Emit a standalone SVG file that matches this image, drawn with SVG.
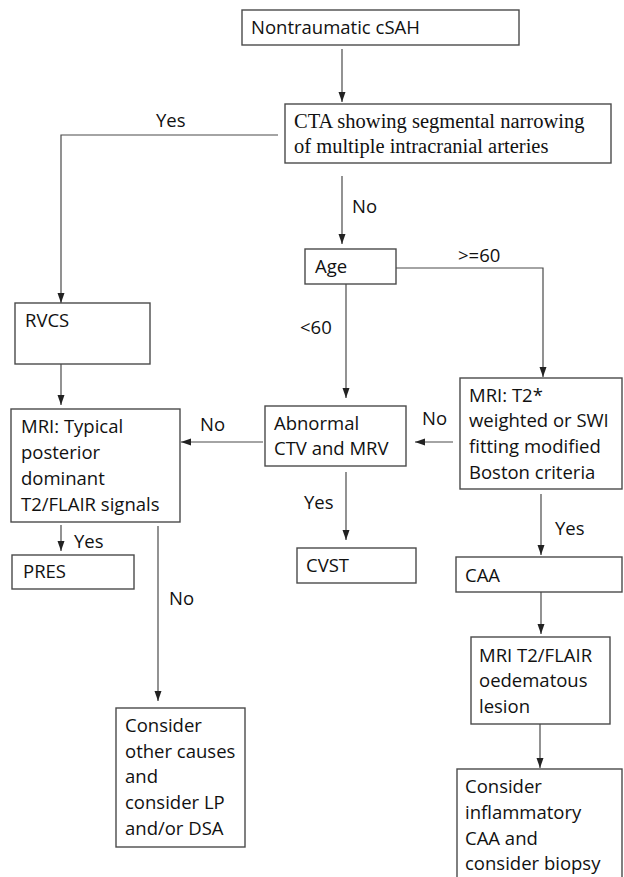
<svg xmlns="http://www.w3.org/2000/svg" width="624" height="877" viewBox="0 0 624 877">
<style>
.box{fill:#fff;stroke:#4a4a4a;stroke-width:1.4}
.t{font-family:"Open Sans","Liberation Sans",sans-serif;font-size:18.5px;fill:#111}
.s{font-family:"Liberation Serif","Times New Roman",serif;font-size:20.5px;fill:#111}
.c{fill:none;stroke:#4a4a4a;stroke-width:1.2}
</style>
<defs>
<marker id="ah" markerUnits="userSpaceOnUse" markerWidth="10" markerHeight="10" viewBox="0 0 10 10" refX="10" refY="5" orient="auto">
<path d="M0,1.5 L10,5 L0,8.5 Z" fill="#222"/>
</marker>
</defs>
<rect width="624" height="877" fill="#fff"/>
<g id="connectors">
<line class="c" x1="342" y1="49" x2="342" y2="102" marker-end="url(#ah)"/>
<polyline class="c" points="278,135 61,135 61,303" marker-end="url(#ah)"/>
<line class="c" x1="342" y1="176" x2="342" y2="244" marker-end="url(#ah)"/>
<polyline class="c" points="396,268 543,268 543,377" marker-end="url(#ah)"/>
<line class="c" x1="346" y1="284" x2="346" y2="398" marker-end="url(#ah)"/>
<line class="c" x1="61" y1="364" x2="61" y2="405" marker-end="url(#ah)"/>
<line class="c" x1="263" y1="442" x2="181" y2="442" marker-end="url(#ah)"/>
<line class="c" x1="453" y1="442" x2="415" y2="442" marker-end="url(#ah)"/>
<line class="c" x1="346" y1="472" x2="346" y2="540" marker-end="url(#ah)"/>
<line class="c" x1="541" y1="494" x2="541" y2="555" marker-end="url(#ah)"/>
<line class="c" x1="541" y1="592" x2="541" y2="634" marker-end="url(#ah)"/>
<line class="c" x1="540" y1="724" x2="540" y2="768" marker-end="url(#ah)"/>
<line class="c" x1="61" y1="525" x2="61" y2="551" marker-end="url(#ah)"/>
<line class="c" x1="158" y1="526" x2="158" y2="701" marker-end="url(#ah)"/>
<text class="t" x="156" y="127">Yes</text>
<text class="t" x="352" y="213">No</text>
<text class="t" x="458" y="262">&gt;=60</text>
<text class="t" x="300" y="334">&lt;60</text>
<text class="t" x="200" y="431">No</text>
<text class="t" x="422" y="425">No</text>
<text class="t" x="304" y="509">Yes</text>
<text class="t" x="555" y="535">Yes</text>
<text class="t" x="74" y="548">Yes</text>
<text class="t" x="169" y="605">No</text>
</g>
<g id="n_csah">
<rect class="box" x="242" y="10" width="277" height="35"/>
<text class="t" x="251" y="34">Nontraumatic cSAH</text>
</g>
<g id="n_cta">
<rect class="box" x="285" y="104" width="326" height="59"/>
<text class="s" x="294" y="128">CTA showing segmental narrowing</text>
<text class="s" x="294" y="153">of multiple intracranial arteries</text>
</g>
<g id="n_age">
<rect class="box" x="305" y="249" width="91" height="35"/>
<text class="t" x="315" y="273">Age</text>
</g>
<g id="n_rvcs">
<rect class="box" x="15" y="303" width="135" height="61"/>
<text class="t" x="25" y="327">RVCS</text>
</g>
<g id="n_mri_typical">
<rect class="box" x="11" y="409" width="169" height="113"/>
<text class="t" x="21" y="433">MRI: Typical</text>
<text class="t" x="21" y="459">posterior</text>
<text class="t" x="21" y="485">dominant</text>
<text class="t" x="21" y="511">T2/FLAIR signals</text>
</g>
<g id="n_abnormal">
<rect class="box" x="265" y="406" width="141" height="60"/>
<text class="t" x="274" y="430">Abnormal</text>
<text class="t" x="274" y="455">CTV and MRV</text>
</g>
<g id="n_mri_t2">
<rect class="box" x="460" y="378" width="162" height="111"/>
<text class="t" x="469" y="402">MRI: T2*</text>
<text class="t" x="469" y="427">weighted or SWI</text>
<text class="t" x="469" y="453">fitting modified</text>
<text class="t" x="469" y="479">Boston criteria</text>
</g>
<g id="n_pres">
<rect class="box" x="12" y="555" width="122" height="34"/>
<text class="t" x="23" y="578">PRES</text>
</g>
<g id="n_cvst">
<rect class="box" x="297" y="548" width="119" height="35"/>
<text class="t" x="306" y="572">CVST</text>
</g>
<g id="n_caa">
<rect class="box" x="456" y="557" width="166" height="35"/>
<text class="t" x="465" y="582">CAA</text>
</g>
<g id="n_mri_flair">
<rect class="box" x="471" y="637" width="139" height="87"/>
<text class="t" x="479" y="662">MRI T2/FLAIR</text>
<text class="t" x="479" y="687">oedematous</text>
<text class="t" x="479" y="713">lesion</text>
</g>
<g id="n_other">
<rect class="box" x="116" y="708" width="129" height="139"/>
<text class="t" x="125" y="732">Consider</text>
<text class="t" x="125" y="758">other causes</text>
<text class="t" x="125" y="783">and</text>
<text class="t" x="125" y="809">consider LP</text>
<text class="t" x="125" y="835">and/or DSA</text>
</g>
<g id="n_inflammatory">
<rect class="box" x="457" y="769" width="165" height="115"/>
<text class="t" x="465" y="793">Consider</text>
<text class="t" x="465" y="819">inflammatory</text>
<text class="t" x="465" y="845">CAA and</text>
<text class="t" x="465" y="870">consider biopsy</text>
</g>
</svg>
